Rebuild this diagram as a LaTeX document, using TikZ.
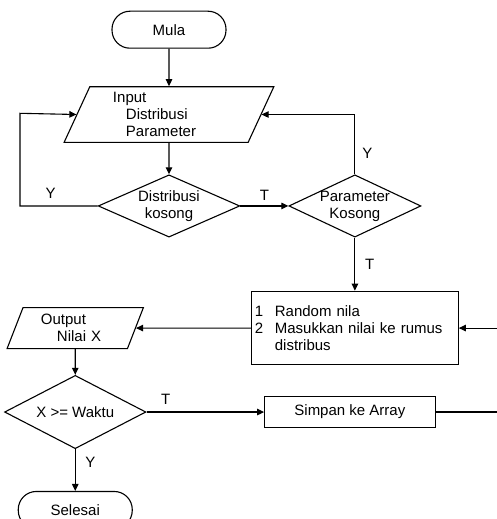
\documentclass[tikz,border=0pt]{standalone}
\usepackage{fontspec}
\setmainfont{Liberation Sans}
\usetikzlibrary{calc, positioning, arrows.meta, shapes.geometric}

\tikzset{
  terminal/.style={draw, rectangle, rounded corners=18pt, minimum width=114pt, minimum height=37pt},
  io/.style={draw, trapezium, trapezium left angle=60, trapezium right angle=120,
    trapezium stretches body, inner sep=0pt, align=left},
  decision/.style={draw, diamond, inner sep=-3pt, align=center},
  process/.style={draw, rectangle},
}

\begin{document}
\begin{tikzpicture}[>={Triangle[length=7pt,width=6.5pt]}, x=1pt, y=1pt, line width=1.1pt,
    every node/.style={font=\fontsize{15}{17}\selectfont}]
  \path[use as bounding box, fill=white] (0,0) rectangle (497,-519);
  \coordinate (rightedge) at (497,0);

  % Start
  \node[terminal] (mula) at (169,-29.7) {Mula};

  % Input
  \node[io, below=37.4pt of mula, minimum width=209.7pt, minimum height=55.6pt, text width=112pt] (inp)
    {Input\\\hspace*{13pt}Distribusi\\\hspace*{13pt}Parameter};

  % Checks
  \node[decision, below=31.4pt of inp, minimum width=141.6pt, minimum height=62.3pt, aspect=2.27] (dist) {Distribusi\\kosong};
  \node[decision, right=48pt of dist, minimum width=132pt, minimum height=62.3pt, aspect=2.11] (param) {Parameter\\Kosong};

  % Process
  \node[process, below=53pt of param, minimum width=204.7pt, minimum height=73.7pt, text width=200pt, align=left] (rand)
    {\makebox[20pt][l]{1}Random nila\\\makebox[20pt][l]{2}Masukkan nilai ke rumus\\\hspace*{20pt}distribus};

  % Output
  \node[io, left=115pt of rand, minimum width=136.3pt, minimum height=41pt, text width=68.6pt] (out)
    {Output\\\hspace*{16pt}Nilai X};

  % Time check
  \node[decision, below=25.7pt of out, minimum width=141.4pt, minimum height=73.3pt, aspect=1.95] (waktu) {X >= Waktu};
  \node[process, right=117.6pt of waktu, minimum width=170.4pt, minimum height=30.7pt, inner sep=0pt] (simpan) {Simpan ke Array};

  % End
  \node[terminal, below=41.7pt of waktu] (selesai) {Selesai};

  % Connections
  \draw[->] (mula) -- (inp);
  \draw[->] (inp) -- (dist);
  \draw[->] (dist) -- (param);
  \draw[->] (param) -- (rand);
  \draw[->] (rand.west) -- (out.right side);
  \draw[->] (out) -- (waktu);
  \draw[->] (waktu) -- (simpan);
  \draw[->] (waktu) -- (selesai);
  \draw[->] (rand.east -| rightedge) -- (rand.east);
  \draw (simpan.east) -- (simpan.east -| rightedge);

  % Loops back to input
  \coordinate (loopl) at (20,-113.3);
  \draw[->] (dist.west) -| (loopl) -- (inp.left side);
  \draw[->] (param.north) |- (inp.right side);

  % Labels
  \node at ($(dist.west)+(-47,12.6)$) {Y};
  \node at ($(dist.east)+(24,10.3)$) {T};
  \node at ($(param.north)+(12.4,21)$) {Y};
  \node at ($(param.south)+(14.7,-27)$) {T};
  \node at ($(waktu.east)+(19.3,13)$) {T};
  \node at ($(waktu.south)+(15,-13.3)$) {Y};
\end{tikzpicture}
\end{document}
